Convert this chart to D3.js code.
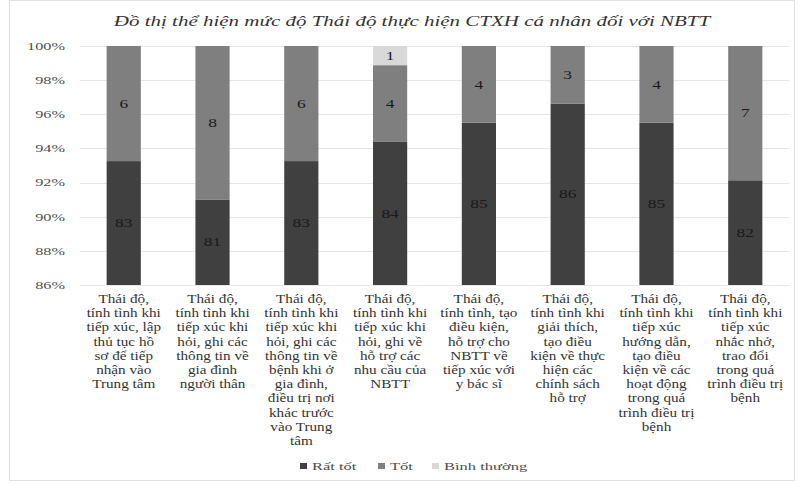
<!DOCTYPE html>
<html>
<head>
<meta charset="utf-8">
<script src="https://cdn.jsdelivr.net/npm/d3@7/dist/d3.min.js"></script>
<style>
  html, body { margin: 0; padding: 0; background: #fff; }
  svg { display: block; font-family: "Liberation Serif", "Times New Roman", serif; }
</style>
</head>
<body>
<svg id="chart" width="799" height="485"></svg>
<script>
// Survey responses per attitude criterion (counts out of respondents)
const categories = [
  "Thái độ, tính tình khi tiếp xúc, lập thủ tục hồ sơ để tiếp nhận vào Trung tâm",
  "Thái độ, tính tình khi tiếp xúc khi hỏi, ghi các thông tin về gia đình người thân",
  "Thái độ, tính tình khi tiếp xúc khi hỏi, ghi các thông tin về bệnh khi ở gia đình, điều trị nơi khác trước vào Trung tâm",
  "Thái độ, tính tình khi tiếp xúc khi hỏi, ghi về hỗ trợ các nhu cầu của NBTT",
  "Thái độ, tính tình, tạo điều kiện, hỗ trợ cho NBTT về tiếp xúc với y bác sĩ",
  "Thái độ, tính tình khi giải thích, tạo điều kiện về thực hiện các chính sách hỗ trợ",
  "Thái độ, tính tình khi tiếp xúc hướng dẫn, tạo điều kiện về các hoạt động trong quá trình điều trị bệnh",
  "Thái độ, tính tình khi tiếp xúc nhắc nhở, trao đổi trong quá trình điều trị bệnh"
];
// Wrapped lines for each category label
const categoryLines = [
  ["Thái độ,", "tính tình khi", "tiếp xúc, lập", "thủ tục hồ", "sơ để tiếp", "nhận vào", "Trung tâm"],
  ["Thái độ,", "tính tình khi", "tiếp xúc khi", "hỏi, ghi các", "thông tin về", "gia đình", "người thân"],
  ["Thái độ,", "tính tình khi", "tiếp xúc khi", "hỏi, ghi các", "thông tin về", "bệnh khi ở", "gia đình,", "điều trị nơi", "khác trước", "vào Trung", "tâm"],
  ["Thái độ,", "tính tình khi", "tiếp xúc khi", "hỏi, ghi về", "hỗ trợ các", "nhu cầu của", "NBTT"],
  ["Thái độ,", "tính tình, tạo", "điều kiện,", "hỗ trợ cho", "NBTT về", "tiếp xúc với", "y bác sĩ"],
  ["Thái độ,", "tính tình khi", "giải thích,", "tạo điều", "kiện về thực", "hiện các", "chính sách", "hỗ trợ"],
  ["Thái độ,", "tính tình khi", "tiếp xúc", "hướng dẫn,", "tạo điều", "kiện về các", "hoạt động", "trong quá", "trình điều trị", "bệnh"],
  ["Thái độ,", "tính tình khi", "tiếp xúc", "nhắc nhở,", "trao đổi", "trong quá", "trình điều trị", "bệnh"]
];
const seriesNames = ["Rất tốt", "Tốt", "Bình thường"];
const ratTot     = [83, 81, 83, 84, 85, 86, 85, 82];
const tot        = [6, 8, 6, 4, 4, 3, 4, 7];
const binhThuong = [0, 0, 0, 1, 0, 0, 0, 0];
const yTicks = [0.86, 0.88, 0.90, 0.92, 0.94, 0.96, 0.98, 1.00];
const titleText = "Đồ thị thể hiện mức độ Thái độ thực hiện CTXH cá nhân đối với NBTT";

const colors = ["#404040", "#7f7f7f", "#d9d9d9"];
const textColor = "#333333";

const svg = d3.select("#chart");
const W = 799, H = 485;
const plotTop = 46, plotBottom = 285, plotLeft = 80, plotRight = 789;

// Chart area frame
svg.append("rect")
  .attr("x", 9.5).attr("y", 0.5).attr("width", W - 14).attr("height", H - 5)
  .attr("fill", "#fff").attr("stroke", "#e2e2e2");

// Stack each category as shares of its total
const rows = categories.map((c, i) => {
  const total = ratTot[i] + tot[i] + binhThuong[i];
  return { cat: c, idx: i, vals: [ratTot[i], tot[i], binhThuong[i]], total };
});

const x = d3.scaleBand()
  .domain(categories)
  .range([plotLeft, plotRight])
  .paddingInner(0.615)
  .paddingOuter(0.3);

const y = d3.scaleLinear()
  .domain([0.86, 1.0])
  .range([plotBottom, plotTop]);

// Horizontally widened text, anchored at (px, py)
function wideText(parent, px, py, sx) {
  return parent.append("text")
    .attr("transform", `translate(${px},${py}) scale(${sx},1)`);
}

// Gridlines
svg.append("g")
  .selectAll("line")
  .data(yTicks)
  .join("line")
  .attr("x1", plotLeft).attr("x2", plotRight)
  .attr("y1", d => Math.round(y(d)) + 0.5)
  .attr("y2", d => Math.round(y(d)) + 0.5)
  .attr("stroke", "#e6e6e6");

// Y axis
const yAxis = d3.axisLeft(y)
  .tickValues(yTicks)
  .tickFormat(d3.format(".0%"))
  .tickSize(0)
  .tickPadding(0);
const yg = svg.append("g").attr("transform", "translate(65,0)").call(yAxis);
yg.select(".domain").remove();
yg.selectAll("text")
  .attr("x", 0)
  .attr("transform", "scale(1.55,1)")
  .attr("font-size", 10.5)
  .attr("fill", "#4d4d4d")
  .attr("font-family", "Liberation Serif, serif");

// Bars
const segs = [];
rows.forEach(r => {
  let cum = 0;
  r.vals.forEach((v, k) => {
    const y0 = cum / r.total;
    cum += v;
    const y1 = cum / r.total;
    segs.push({ cat: r.cat, k, v, y0, y1 });
  });
});
const shown = segs.filter(s => s.v > 0);
const yClamp = v => y(Math.max(0.86, v));

svg.append("g")
  .selectAll("rect")
  .data(shown)
  .join("rect")
  .attr("x", d => x(d.cat))
  .attr("width", x.bandwidth())
  .attr("y", d => yClamp(d.y1))
  .attr("height", d => yClamp(d.y0) - yClamp(d.y1))
  .attr("fill", d => colors[d.k]);

// Value labels
const vl = svg.append("g");
shown.forEach(d => {
  wideText(vl, x(d.cat) + x.bandwidth() / 2, (yClamp(d.y0) + yClamp(d.y1)) / 2, 1.45)
    .attr("dy", "0.35em")
    .attr("text-anchor", "middle")
    .attr("font-size", 12)
    .attr("fill", "#1a1a1a")
    .text(d.v);
});

// Category labels
const xl = svg.append("g");
categories.forEach((c, i) => {
  const cx = x(c) + x.bandwidth() / 2;
  categoryLines[i].forEach((line, j) => {
    wideText(xl, cx, 303 + j * 14.2, 1.32)
      .attr("text-anchor", "middle")
      .attr("font-size", 11.5)
      .attr("fill", textColor)
      .text(line);
  });
});

// Title
wideText(svg, 412, 26, 1.5)
  .attr("text-anchor", "middle")
  .attr("font-size", 14)
  .attr("font-style", "italic")
  .attr("fill", textColor)
  .text(titleText);

// Legend
const legend = svg.append("g").attr("transform", "translate(0,470)");
const legendX = [300, 378, 432];
seriesNames.forEach((n, k) => {
  const g = legend.append("g").attr("transform", `translate(${legendX[k]},0)`);
  g.append("rect").attr("x", 0).attr("y", -7).attr("width", 7).attr("height", 6).attr("fill", colors[k]);
  wideText(g, 12, 0, 1.5)
    .attr("font-size", 11)
    .attr("fill", "#4d4d4d")
    .text(n);
});
</script>
</body>
</html>
